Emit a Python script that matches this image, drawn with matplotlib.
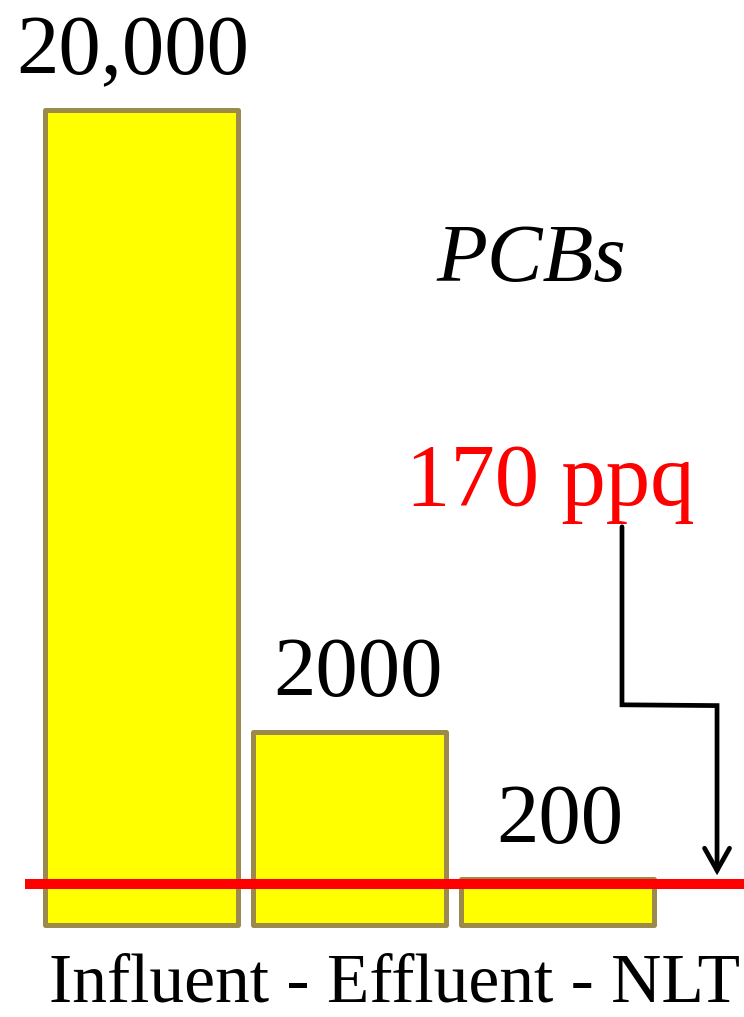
import numpy as np
import matplotlib.pyplot as plt

# data
sites = ["Influent", "Effluent", "NLT"]
pcb_ppq = [20000, 2000, 200]
value_labels = ["20,000", "2000", "200"]
limit_ppq = 170
limit_label = "170 ppq"

# bar heights in the original are not linear -- roughly a power scale
p = 0.625


def fwd(v):
    v = np.asarray(v, dtype=float)
    return np.sign(v) * np.abs(v) ** p


def inv(t):
    t = np.asarray(t, dtype=float)
    return np.sign(t) * np.abs(t) ** (1.0 / p)


plt.rcParams['font.family'] = ['Liberation Serif', 'DejaVu Serif']

W, H = 744, 1017
fig = plt.figure(figsize=(W / 100, H / 100), dpi=100)
ax = fig.add_axes([0, 0, 1, 1])
ax.set_yscale('function', functions=(fwd, inv))

# pixel layout: base of bars 92px from bottom, tallest bar 815px high
base_px = 92
top_px = 815
t_per_px = fwd(max(pcb_ppq)) / top_px
ax.set_ylim(inv(-base_px * t_per_px), inv((H - base_px) * t_per_px))
ax.set_xlim(-141.5 / 208, (W - 141.5) / 208)

x = np.arange(len(sites))
bars = ax.bar(x, pcb_ppq, width=0.925, color='#ffff00', edgecolor='#9c8a4c',
              linewidth=3.6, joinstyle='round', zorder=2)

label_dx = [-6, 6, 2]
for xi, v, lab, dx in zip(x, pcb_ppq, value_labels, label_dx):
    ax.annotate(lab, xy=(xi, v), xytext=(dx, 26), textcoords='offset points',
                ha='center', va='baseline', fontsize=61, color='black')

# limit line
ax.axhline(limit_ppq, xmin=30 / W, xmax=1, color='#ff0000', linewidth=7.2, zorder=3)

ax.text(0.714, 0.724, "PCBs", transform=ax.transAxes, ha='center', va='baseline',
        fontsize=60, style='italic')
ax.text(0.739, 0.503, limit_label, transform=ax.transAxes, ha='center', va='baseline',
        fontsize=64, color='#ff0000')

ax.annotate("", xy=(2.767, limit_ppq), xytext=(0.836, 0.482),
            xycoords=('data', 'data'), textcoords='axes fraction',
            arrowprops=dict(arrowstyle='->,head_length=0.8,head_width=0.45',
                            mutation_scale=20, color='black', lw=3.4,
                            shrinkA=0, shrinkB=6, joinstyle='miter',
                            connectionstyle='arc,angleA=-90,angleB=90,armA=178,armB=178,rad=0'))

ax.text(0.53, 0.0, "Influent - Effluent - NLT", transform=ax.transAxes,
        ha='center', va='bottom', fontsize=50)

ax.axis('off')
fig.savefig('out.png', dpi=100)
